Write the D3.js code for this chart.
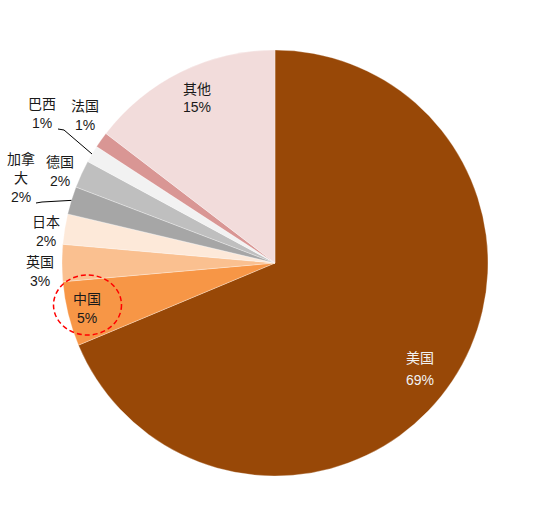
<!DOCTYPE html>
<html>
<head>
<meta charset="utf-8">
<script src="https://cdn.jsdelivr.net/npm/d3@7"></script>
<style>
  body { margin: 0; background: #fff; }
  svg { display: block; }
</style>
</head>
<body>
<svg id="chart"></svg>
<script>
// share of total (clockwise from 12 o'clock)
const countries = ["美国", "中国", "英国", "日本", "加拿大", "德国", "巴西", "法国", "其他"];
const shares = [68.7, 4.9, 2.8, 2.3, 2.1, 2.1, 1.3, 1.2, 14.6];
const shareLabels = ["69%", "5%", "3%", "2%", "2%", "2%", "1%", "1%", "15%"];
const sliceColors = ["#984807", "#f79646", "#fac090", "#fde9d9", "#a6a6a6",
                     "#bfbfbf", "#f2f2f2", "#d99694", "#f2dcdb"];

// label layout (first line centre, line gap) and line breaks
const labelAt = [[420, 358], [87, 299], [40, 262], [46, 222], [21, 159],
                 [60, 162], [42, 104], [85, 106], [197, 89]];
const labelGap = [22, 19, 19, 19, 19, 19, 19, 19, 18];
const labelLines = [null, null, null, null, ["加拿", "大"], null, null, null, null];
const leaderFrom = { "巴西": [[58, 129], [64, 130]], "加拿大": [[36, 203], [42, 202]] };

const width = 550;
const height = 525;
const cx = 275, cy = 263, radius = 213;

const svg = d3.select('#chart')
    .attr('width', width)
    .attr('height', height)
    .style('font-family', '"Liberation Sans", Arial, "Noto Sans CJK SC", sans-serif')
    .style('font-size', '14px');

const data = countries.map((c, i) => ({ name: c, value: shares[i], label: shareLabels[i], idx: i }));

const pie = d3.pie().sort(null).value(d => d.value);
const arc = d3.arc().innerRadius(0).outerRadius(radius);
const edge = d3.arc().innerRadius(radius).outerRadius(radius);

const g = svg.append('g').attr('transform', `translate(${cx},${cy})`);
const arcs = pie(data);

g.selectAll('path')
    .data(arcs)
    .join('path')
    .attr('d', arc)
    .attr('fill', d => sliceColors[d.data.idx])
    .attr('stroke', '#fff')
    .attr('stroke-width', 0.3);

// leader lines for the two outside labels that need them
arcs.forEach(d => {
    const pts = leaderFrom[d.data.name];
    if (!pts) return;
    const [ex, ey] = edge.centroid(d);
    const line = pts.concat([[ex + cx, ey + cy]]);
    svg.append('path')
        .attr('d', d3.line()(line))
        .attr('fill', 'none')
        .attr('stroke', '#000')
        .attr('stroke-width', 1);
});

// labels
data.forEach((d, i) => {
    const lines = (labelLines[i] || [d.name]).concat([d.label]);
    const [lx, ly] = labelAt[i];
    const t = svg.append('text')
        .attr('text-anchor', 'middle')
        .attr('fill', i === 0 ? '#f2f2f2' : '#1a1a1a');
    lines.forEach((s, k) => {
        t.append('tspan')
            .attr('x', lx)
            .attr('y', ly + k * labelGap[i])
            .attr('dy', '0.36em')
            .text(s);
    });
});

// red dashed highlight round 中国
svg.append('ellipse')
    .attr('cx', 87.5)
    .attr('cy', 305)
    .attr('rx', 34)
    .attr('ry', 30)
    .attr('fill', 'none')
    .attr('stroke', '#ff0000')
    .attr('stroke-width', 1.5)
    .attr('stroke-dasharray', '5,3');
</script>
</body>
</html>
